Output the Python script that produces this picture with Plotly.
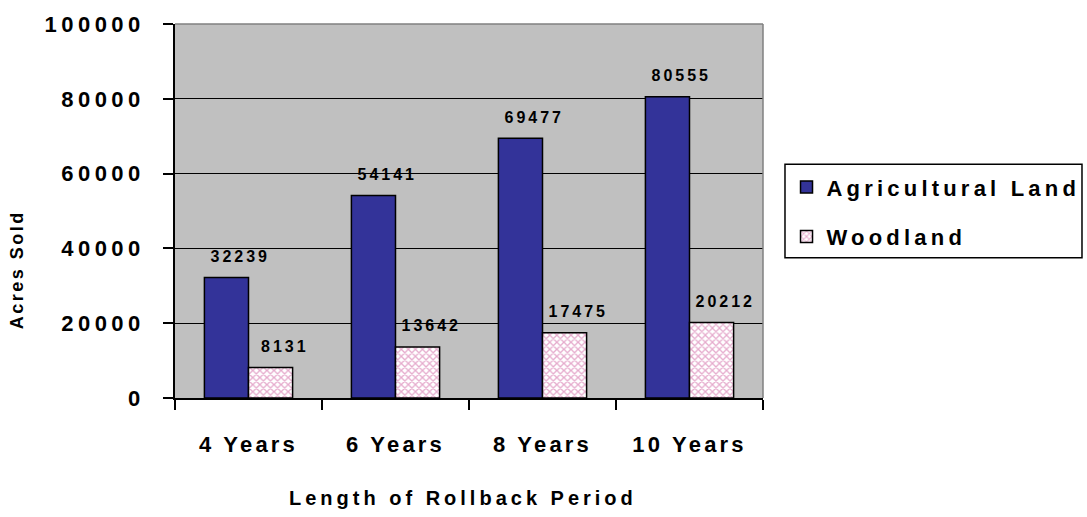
import plotly.graph_objects as go

categories = ["4 Years", "6 Years", "8 Years", "10 Years"]
agricultural = [32239, 54141, 69477, 80555]
woodland = [8131, 13642, 17475, 20212]
series_names = ["Agricultural Land", "Woodland"]
y_ticks = [0, 20000, 40000, 60000, 80000, 100000]

FONT = "Liberation Sans Narrow, Arial Narrow, Liberation Sans, Arial, sans-serif"
W, H = 1087, 517
ML, MR, MT, MB = 175, 324, 22, 119
BARGAP = 0.4

fig = go.Figure()
fig.add_trace(go.Bar(
    x=categories, y=agricultural, name=series_names[0], legendgroup="a",
    marker=dict(color="#333399", line=dict(color="black", width=1.5)),
))
fig.add_trace(go.Bar(
    x=categories, y=woodland, name=series_names[1], legendgroup="b",
    marker=dict(color="white", line=dict(color="black", width=1.5),
                pattern=dict(shape="x", fgcolor="#cc5599", bgcolor="white",
                             size=5, solidity=0.45)),
))

# value labels above bars, placed through the axes (category serial numbers)
half = (1 - BARGAP) / 4
annotations = []
for vals, off in ((agricultural, -half), (woodland, half)):
    for i, v in enumerate(vals):
        annotations.append(dict(
            x=i + off, y=v, xref="x", yref="y", text=str(v), showarrow=False,
            xanchor="center", yanchor="middle", yshift=21, xshift=14,
            font=dict(family=FONT, size=16, color="black", weight="bold"),
        ))

annotations.append(dict(
    x=-0.2687, y=0.343, xref="paper", yref="paper", text="Acres Sold",
    showarrow=False, textangle=-90, xanchor="center", yanchor="middle",
    font=dict(family=FONT, size=18, color="black", weight="bold"),
))
annotations.append(dict(
    x=0.49, y=-0.268, xref="paper", yref="paper", text="Length of Rollback Period",
    showarrow=False, xanchor="center", yanchor="middle",
    font=dict(family=FONT, size=20, color="black", weight="bold"),
))

shapes = [
    # legend frame
    dict(type="rect", xref="paper", yref="paper", x0=1.0374, x1=1.5425,
         y0=0.375, y1=0.625, line=dict(color="black", width=1.5),
         fillcolor="rgba(0,0,0,0)", layer="above"),
    # grey top/right plot border
    dict(type="line", xref="paper", yref="paper", x0=1, x1=1, y0=0, y1=1,
         line=dict(color="#808080", width=1.5), layer="above"),
    dict(type="line", xref="paper", yref="paper", x0=0, x1=1, y0=1, y1=1,
         line=dict(color="#808080", width=1.5), layer="above"),
]

fig.update_layout(
    width=W, height=H,
    margin=dict(l=ML, r=MR, t=MT, b=MB),
    paper_bgcolor="white", plot_bgcolor="#c0c0c0",
    barmode="group", bargap=BARGAP, bargroupgap=0,
    showlegend=True,
    legend=dict(
        x=1.04, xanchor="left", y=0.62, yanchor="top",
        bgcolor="rgba(0,0,0,0)", borderwidth=0,
        font=dict(family=FONT, size=22, color="black", weight="bold"),
        tracegroupgap=18, traceorder="grouped",
    ),
    annotations=annotations,
    shapes=shapes,
)

fig.update_yaxes(
    range=[0, 100000], tickvals=y_ticks, ticktext=[str(t) for t in y_ticks],
    showgrid=True, gridcolor="black", gridwidth=1,
    showline=True, linecolor="black", linewidth=1.5,
    ticks="outside", ticklen=10, tickcolor="black", tickwidth=1.5,
    ticklabelstandoff=14, zeroline=False,
    tickfont=dict(family=FONT, size=22, color="black", weight="bold"),
)
fig.update_xaxes(
    showgrid=False, showline=True, linecolor="black", linewidth=1.5,
    ticks="outside", tickson="boundaries", ticklen=10, tickcolor="black",
    tickwidth=1.5, ticklabelstandoff=26,
    tickfont=dict(family=FONT, size=22, color="black", weight="bold"),
)

post = """
document.body.style.margin = '0';
document.body.style.padding = '0';
var gd = document.getElementById('{plot_id}');
function sp(sel, v){ gd.querySelectorAll(sel).forEach(function(t){ t.style.letterSpacing = v; }); }
sp('.ytick text', '4.5px');
sp('.xtick text', '3.2px');
sp('text.legendtext', '4.2px');
var bySize = {'16px': '3px', '18px': '2.5px', '20px': '4px'};
gd.querySelectorAll('text.annotation-text').forEach(function(t){
  var fs = t.style.fontSize;
  if (bySize[fs]) { t.style.letterSpacing = bySize[fs]; }
});
gd.querySelectorAll('.legend [clip-path]').forEach(function(e){ e.removeAttribute('clip-path'); });
"""
fig.write_html("out.html", post_script=post, config={"displayModeBar": False})
